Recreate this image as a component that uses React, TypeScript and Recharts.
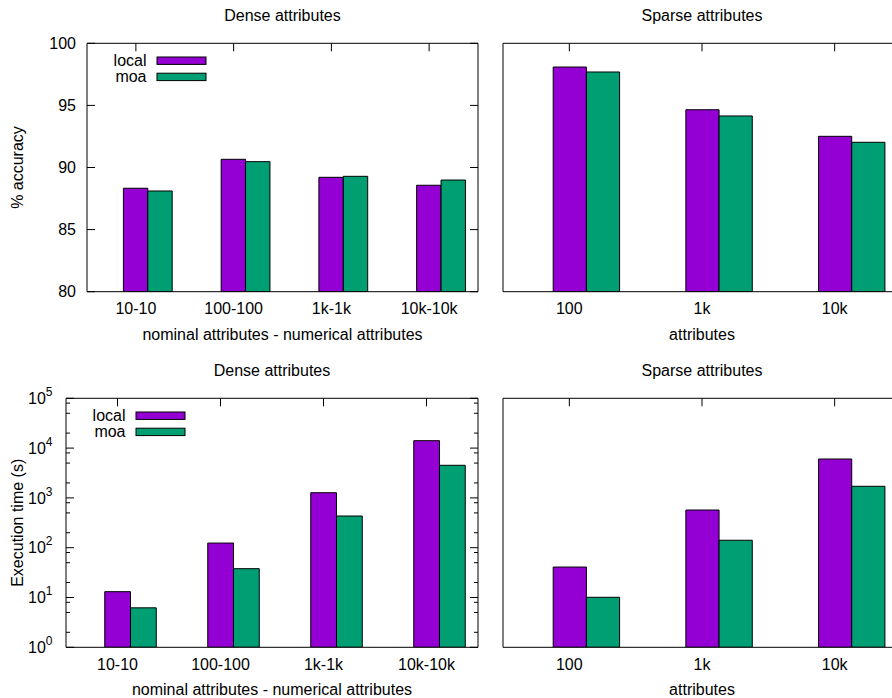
import React from 'react';
import { BarChart, Bar, XAxis, YAxis, Legend, Label } from 'recharts';

// Categories
const denseCategories = ['10-10', '100-100', '1k-1k', '10k-10k'];
const sparseCategories = ['100', '1k', '10k'];

// Accuracy (%)
const denseAccuracyLocal = [88.33, 90.66, 89.21, 88.57];
const denseAccuracyMoa = [88.11, 90.47, 89.29, 88.99];
const sparseAccuracyLocal = [98.09, 94.65, 92.51];
const sparseAccuracyMoa = [97.69, 94.15, 92.03];

// Execution time (s)
const denseTimeLocal = [13.1, 124, 1271, 14090];
const denseTimeMoa = [6.2, 37.9, 433, 4516];
const sparseTimeLocal = [40.9, 571, 6040];
const sparseTimeMoa = [10.1, 141, 1710];

// Axis ticks
const accuracyTicks = [80, 85, 90, 95, 100];
const timeMajorTicks = [1, 10, 100, 1000, 10000, 100000];
const timeMinorFactors = [2, 5, 8];

const timeTicks: number[] = [];
timeMajorTicks.forEach((m, i) => {
  timeTicks.push(m);
  if (i < timeMajorTicks.length - 1) timeMinorFactors.forEach((f) => timeTicks.push(m * f));
});

const LOCAL = '#9400d3';
const MOA = '#009e73';
const INK = '#000';
const FONT = '"Liberation Sans", Arial, Helvetica, sans-serif';
const FS = 16;
const seriesColor: Record<string, string> = { local: LOCAL, moa: MOA };

const AXIS = { stroke: INK, strokeWidth: 1 };

const makeLeftTick = (log: boolean) => (props: any) => {
  const { x, y, payload } = props;
  const v = payload.value;
  const major = !log || timeMajorTicks.includes(v);
  const len = major ? 8 : 4;
  return (
    <g>
      <line x1={x} x2={x + len} y1={y} y2={y} stroke={INK} strokeWidth={1} />
      {major &&
        (log ? (
          <text x={x - 13.5} y={y + 5.7} textAnchor="end" fontFamily={FONT} fontSize={FS} fill={INK}>
            10
            <tspan dy={-8} fontSize={12}>
              {Math.round(Math.log10(v))}
            </tspan>
          </text>
        ) : (
          <text x={x - 11} y={y + 5.7} textAnchor="end" fontFamily={FONT} fontSize={FS} fill={INK}>
            {v}
          </text>
        ))}
    </g>
  );
};

const makeRightTick = (log: boolean) => (props: any) => {
  const { x, y, payload } = props;
  const major = !log || timeMajorTicks.includes(payload.value);
  const len = major ? 8 : 4;
  return <line x1={x} x2={x - len} y1={y} y2={y} stroke={INK} strokeWidth={1} />;
};

const topTick = (props: any) => (
  <line x1={props.x} x2={props.x} y1={props.y} y2={props.y + 8} stroke={INK} strokeWidth={1} />
);

const bottomTick = (props: any) => (
  <text x={props.x} y={props.y + 22.3} textAnchor="middle" fontFamily={FONT} fontSize={FS} fill={INK}>
    {props.payload.value}
  </text>
);

type PanelProps = {
  left: number;
  top: number;
  width: number;
  height: number;
  topH: number;
  bottomH: number;
  leftW: number;
  rightW: number;
  categories: string[];
  local: number[];
  moa: number[];
  log: boolean;
  barSize: number;
  yLabels: boolean;
  yTitle?: string;
  xTitle: string;
  title: string;
  legend: boolean;
};

function Panel(p: PanelProps) {
  const rows = p.categories.map((cat, i) => ({ cat, local: p.local[i], moa: p.moa[i] }));
  const domain = p.log ? [1, 100000] : [80, 100];
  const ticks = p.log ? timeTicks : accuracyTicks;
  const scale = p.log ? 'log' : 'linear';

  const titleContent = (lp: any) => {
    const vb = lp.viewBox || {};
    return (
      <text x={vb.x + vb.width / 2} y={vb.y + vb.height - 22.8} textAnchor="middle" fontFamily={FONT} fontSize={FS} fill={INK}>
        {p.title}
      </text>
    );
  };
  const xTitleContent = (lp: any) => {
    const vb = lp.viewBox || {};
    return (
      <text x={vb.x + vb.width / 2} y={vb.y + 47.8} textAnchor="middle" fontFamily={FONT} fontSize={FS} fill={INK}>
        {p.xTitle}
      </text>
    );
  };
  const yTitleContent = (lp: any) => {
    const vb = lp.viewBox || {};
    const cx = vb.x + 23.3;
    const cy = vb.y + vb.height / 2;
    return (
      <text x={cx} y={cy} transform={`rotate(-90 ${cx} ${cy})`} textAnchor="middle" fontFamily={FONT} fontSize={FS} fill={INK}>
        {p.yTitle}
      </text>
    );
  };
  const legendContent = (lp: any) => {
    const items = (lp.payload || []).filter((e: any) => e.type !== 'none');
    return (
      <svg width={240} height={110} style={{ display: 'block', overflow: 'visible' }}>
        {items.map((e: any, i: number) => {
          const cy = p.topH + 17.4 + i * 16.2;
          const name = String(e.value);
          return (
            <g key={name}>
              <text x={p.leftW + 59.5} y={cy + 5.3} textAnchor="end" fontFamily={FONT} fontSize={FS} fill={INK}>
                {name}
              </text>
              <rect x={p.leftW + 70} y={cy - 3.7} width={49} height={7.4} fill={seriesColor[name] || e.color} stroke={INK} strokeWidth={1} />
            </g>
          );
        })}
      </svg>
    );
  };

  return (
    <div style={{ position: 'absolute', left: p.left, top: p.top, width: p.width, height: p.height }}>
      <BarChart
        width={p.width}
        height={p.height}
        data={rows}
        margin={{ top: 0, right: 0, bottom: 0, left: 0 }}
        barGap={0}
        barCategoryGap={0}
      >
        <XAxis
          xAxisId="top"
          orientation="top"
          dataKey="cat"
          height={p.topH}
          interval={0}
          tickSize={0}
          tickMargin={0}
          tickLine={false}
          tick={topTick}
          axisLine={AXIS}
        >
          <Label content={titleContent} />
        </XAxis>
        <XAxis
          dataKey="cat"
          height={p.bottomH}
          interval={0}
          tickSize={0}
          tickMargin={0}
          tickLine={false}
          tick={bottomTick}
          axisLine={AXIS}
        >
          <Label content={xTitleContent} />
        </XAxis>
        <YAxis
          type="number"
          scale={scale}
          domain={domain}
          allowDataOverflow
          width={p.leftW}
          ticks={ticks}
          interval={0}
          tickSize={0}
          tickMargin={0}
          tickLine={false}
          tick={p.yLabels ? makeLeftTick(p.log) : false}
          axisLine={AXIS}
        >
          {p.yTitle ? <Label content={yTitleContent} /> : null}
        </YAxis>
        <YAxis
          yAxisId="r"
          orientation="right"
          type="number"
          scale={scale}
          domain={domain}
          allowDataOverflow
          width={p.rightW}
          ticks={ticks}
          interval={0}
          tickSize={0}
          tickMargin={0}
          tickLine={false}
          tick={p.yLabels ? makeRightTick(p.log) : false}
          axisLine={AXIS}
        />
        <Bar dataKey="pad" legendType="none" barSize={p.barSize} isAnimationActive={false} />
        <Bar dataKey="local" name="local" fill={LOCAL} stroke={INK} strokeWidth={1} barSize={p.barSize} isAnimationActive={false} />
        <Bar dataKey="moa" name="moa" fill={MOA} stroke={INK} strokeWidth={1} barSize={p.barSize} isAnimationActive={false} />
        {p.legend ? (
          <Legend
            layout="vertical"
            align="center"
            verticalAlign="middle"
            wrapperStyle={{ position: 'absolute', left: 0, top: 0, width: 240, height: 110 }}
            content={legendContent}
          />
        ) : null}
      </BarChart>
    </div>
  );
}

export default function App() {
  return (
    <div
      style={{
        position: 'absolute',
        left: 0,
        top: 0,
        width: 892,
        height: 698,
        overflow: 'hidden',
        background: '#fff',
      }}
    >
      <Panel
        left={0}
        top={0}
        width={480}
        height={350}
        topH={43.3}
        bottomH={58.3}
        leftW={87}
        rightW={2}
        categories={denseCategories}
        local={denseAccuracyLocal}
        moa={denseAccuracyMoa}
        log={false}
        barSize={24.4}
        yLabels
        yTitle="% accuracy"
        xTitle="nominal attributes - numerical attributes"
        title="Dense attributes"
        legend
      />
      <Panel
        left={480}
        top={0}
        width={422}
        height={350}
        topH={43.3}
        bottomH={58.3}
        leftW={23}
        rightW={1}
        categories={sparseCategories}
        local={sparseAccuracyLocal}
        moa={sparseAccuracyMoa}
        log={false}
        barSize={33.2}
        yLabels={false}
        xTitle="attributes"
        title="Sparse attributes"
        legend={false}
      />
      <Panel
        left={0}
        top={350}
        width={480}
        height={348}
        topH={48.3}
        bottomH={50.7}
        leftW={66}
        rightW={2}
        categories={denseCategories}
        local={denseTimeLocal}
        moa={denseTimeMoa}
        log
        barSize={25.75}
        yLabels
        yTitle="Execution time (s)"
        xTitle="nominal attributes - numerical attributes"
        title="Dense attributes"
        legend
      />
      <Panel
        left={480}
        top={350}
        width={422}
        height={348}
        topH={48.3}
        bottomH={50.7}
        leftW={23}
        rightW={1}
        categories={sparseCategories}
        local={sparseTimeLocal}
        moa={sparseTimeMoa}
        log
        barSize={33.2}
        yLabels={false}
        xTitle="attributes"
        title="Sparse attributes"
        legend={false}
      />
    </div>
  );
}
